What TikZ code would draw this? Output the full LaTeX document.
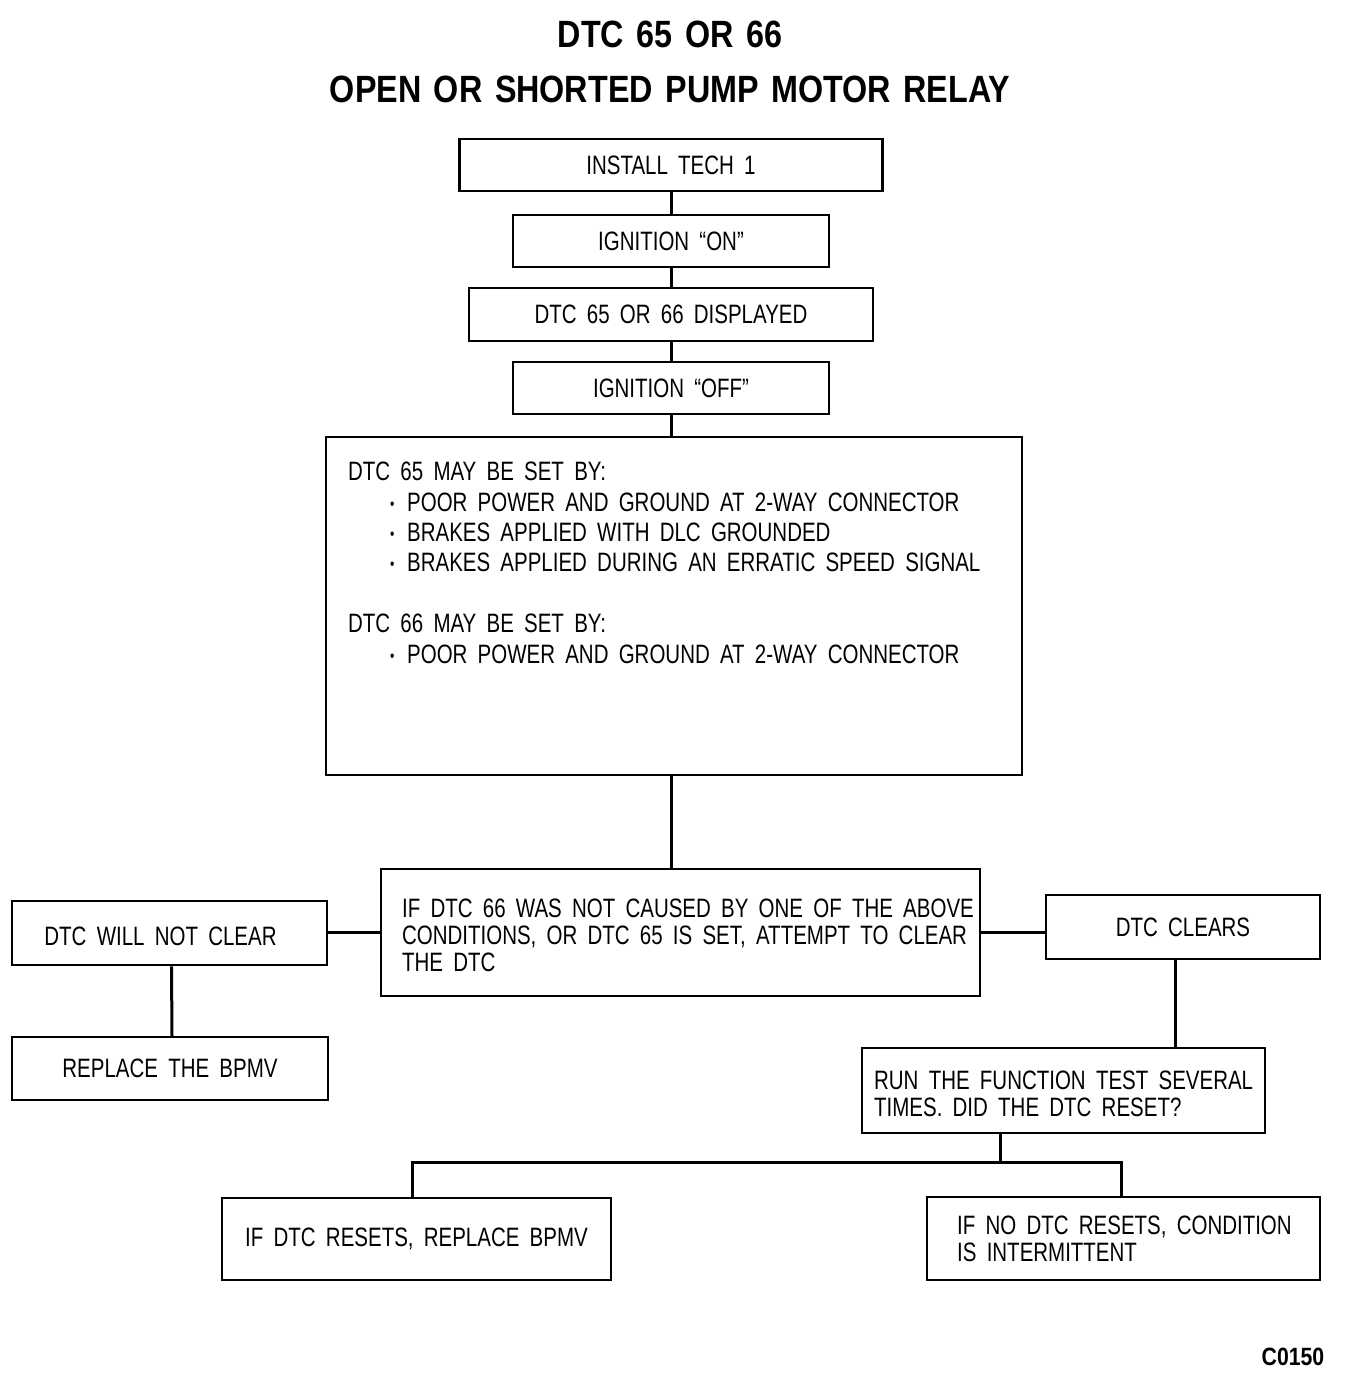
\documentclass[tikz,border=0pt]{standalone}
\usepackage{fontspec}
\setmainfont{Liberation Sans}[FakeStretch=0.77,WordSpace=1.8]
\newfontfamily\titlefont{Liberation Sans}[FakeStretch=0.85,WordSpace=1.4]
\usetikzlibrary{positioning}
\usetikzlibrary{calc}

\newcommand{\boxfont}{\fontsize{13.3}{13.5}\selectfont}
\newcommand{\bul}{\hspace*{21pt}\makebox[8.5pt][l]{\raisebox{1pt}{\footnotesize\textbullet}}}

\tikzset{
  stepbox/.style={draw, line width=1.25pt, inner sep=0pt, font=\boxfont},
  steptext/.style={inner sep=0pt, align=left, anchor=west, font=\boxfont},
  link/.style={line width=1.5pt},
  headline/.style={font=\titlefont\bfseries\fontsize{19}{19}\selectfont},
}

\begin{document}
\begin{tikzpicture}[x=0.5pt,y=-0.5pt]

  \def\px{0.5pt};
  \useasboundingbox (0,0) rectangle (1344,1376);

  %title
  \node[headline] (title1) at (670,34) {DTC 65 OR 66};
  \node[headline] (title2) at (670,89) {OPEN OR SHORTED PUMP MOTOR RELAY};

  %first steps, one under the other
  \foreach \name/\y/\w/\h/\txt in {tech/165/423/52/INSTALL TECH 1,
                                   ignon/241/316/52/IGNITION ``ON'',
                                   disp/314.5/404/53/DTC 65 OR 66 DISPLAYED,
                                   ignoff/388/316/52/IGNITION ``OFF''}{
      \node[stepbox, minimum width=\w*\px, minimum height=\h*\px] (\name) at (671,\y) {\txt};
  }

  %what sets the codes
  \node[stepbox, minimum width=696*\px, minimum height=338*\px] (setby) at (674,606) {};
  \node[steptext, anchor=north west, font=\fontsize{13.3}{15.2}\selectfont] (setbytxt)
      at ([xshift=11.5pt,yshift=-13pt]setby.north west)
      {DTC 65 MAY BE SET BY:\\
       \bul POOR POWER AND GROUND AT 2-WAY CONNECTOR\\
       \bul BRAKES APPLIED WITH DLC GROUNDED\\
       \bul BRAKES APPLIED DURING AN ERRATIC SPEED SIGNAL\\[15.2pt]
       DTC 66 MAY BE SET BY:\\
       \bul POOR POWER AND GROUND AT 2-WAY CONNECTOR};

  \foreach \a/\b in {tech/ignon, ignon/disp, disp/ignoff}{
      \draw[link] (\a.south) -- (\b.north);
  }
  \draw[link] (ignoff.south) -- (ignoff.south |- setby.north);

  %clear attempt
  \node[stepbox, minimum width=599*\px, minimum height=127*\px] (clear) at (680.5,932.5) {};
  \node[steptext, font=\fontsize{13.3}{13.5}\selectfont] (cleartxt)
      at ([xshift=11pt,yshift=-1.2pt]clear.west)
      {IF DTC 66 WAS NOT CAUSED BY ONE OF THE ABOVE\\
       CONDITIONS, OR DTC 65 IS SET, ATTEMPT TO CLEAR\\
       THE DTC};
  \draw[link] (ignoff.south |- setby.south) -- (ignoff.south |- clear.north);

  %left branch
  \node[stepbox, minimum width=315*\px, minimum height=64*\px] (notclr) at (169.5,933) {};
  \node[steptext, anchor=center] (notclrtxt) at ([xshift=-4.5pt,yshift=-1.5pt]notclr.center) {DTC WILL NOT CLEAR};
  \node[stepbox, minimum width=316*\px, minimum height=63*\px] (repl) at (170,1068.5) {REPLACE THE BPMV};
  \draw[link] (clear.west) -- (clear.west -| notclr.east);
  \draw[link] ([xshift=1pt]notclr.south) -- ([xshift=1pt]repl.north);

  %right branch
  \node[stepbox, minimum width=274*\px, minimum height=64*\px] (clears) at (1183,927) {DTC CLEARS};
  \node[stepbox, minimum width=403*\px, minimum height=85*\px] (runtest) at (1063.5,1090.5) {};
  \node[steptext] (runtesttxt) at ([xshift=6.5pt,yshift=-1.5pt]runtest.west)
      {RUN THE FUNCTION TEST SEVERAL\\ TIMES. DID THE DTC RESET?};
  \draw[link] (clear.east) -- (clear.east -| clears.west);
  \draw[link] ([xshift=-4pt]clears.south) -- ([xshift=-4pt]clears.south |- runtest.north);

  %outcome
  \node[stepbox, minimum width=389*\px, minimum height=82*\px] (reset) at (416.5,1239) {IF DTC RESETS, REPLACE BPMV};
  \node[stepbox, minimum width=393*\px, minimum height=83*\px] (noreset) at (1123.5,1238.5) {};
  \node[steptext] (noresettxt) at ([xshift=15.5pt,yshift=0pt]noreset.west)
      {IF NO DTC RESETS, CONDITION\\ IS INTERMITTENT};

  \coordinate (fork) at (1000,1162);
  \draw[link] (runtest.south -| fork) -- (fork);
  \draw[link] ([xshift=-2pt]reset.north) |- (fork) -| ([xshift=-1pt]noreset.north);

  \node[font=\titlefont\bfseries\fontsize{12.5}{12.5}\selectfont] (code) at (1293,1357) {C0150};

\end{tikzpicture}
\end{document}
